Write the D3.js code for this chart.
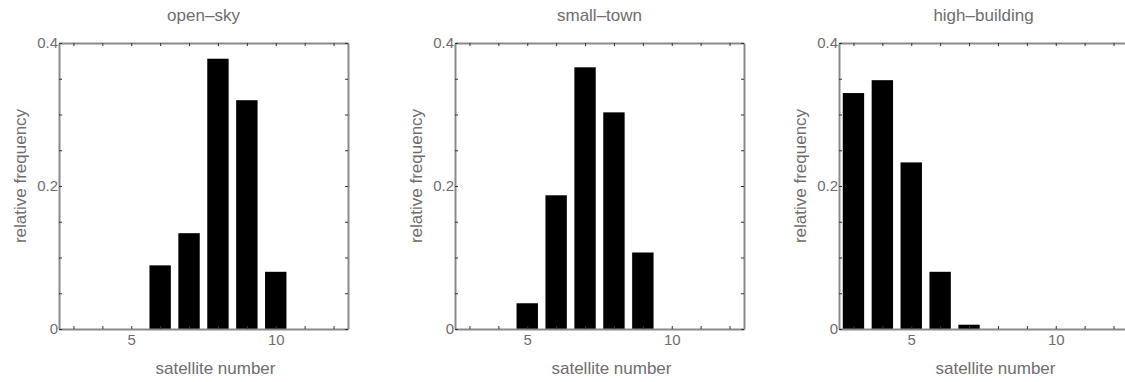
<!DOCTYPE html>
<html>
<head>
<meta charset="utf-8">
<script src="https://cdn.jsdelivr.net/npm/d3@7"></script>
<style>
  body { margin: 0; background: #fff; }
  svg { display: block; }
</style>
</head>
<body>
<div id="chart"></div>
<script>
// satellite counts and relative frequency for each environment
const titles = ["open–sky", "small–town", "high–building"];

const openSkySats = [6, 7, 8, 9, 10];
const openSkyFreq = [0.089, 0.134, 0.378, 0.320, 0.080];

const smallTownSats = [5, 6, 7, 8, 9];
const smallTownFreq = [0.036, 0.187, 0.366, 0.303, 0.107];

const highBuildingSats = [3, 4, 5, 6, 7];
const highBuildingFreq = [0.330, 0.348, 0.233, 0.080, 0.006];

const xTickLabels = [5, 10];
const yTickLabels = [0, 0.2, 0.4];
const xLabel = "satellite number";
const yLabel = "relative frequency";

const width = 1125, height = 382;
const panelLefts = [59, 455, 839];
const panelWidth = 289;
const plotTop = 43, plotBottom = 329;
const textColor = "#6e6e6e";
const font = "'Liberation Sans', Arial, sans-serif";

const svg = d3.select("#chart").append("svg")
    .attr("width", width)
    .attr("height", height);

const series = [
    { sats: openSkySats, freq: openSkyFreq },
    { sats: smallTownSats, freq: smallTownFreq },
    { sats: highBuildingSats, freq: highBuildingFreq }
];

series.forEach((s, i) => {
    const left = panelLefts[i];
    const right = left + panelWidth;

    const x = d3.scaleLinear().domain([2.5, 12.5]).range([left, right]);
    const y = d3.scaleLinear().domain([0, 0.4]).range([plotBottom, plotTop]);

    const g = svg.append("g");

    // bars
    const barW = 0.74;
    g.selectAll("rect")
        .data(s.sats.map((d, j) => ({ sat: d, f: s.freq[j] })))
        .enter().append("rect")
        .attr("x", d => x(d.sat - barW / 2))
        .attr("width", d => x(d.sat + barW / 2) - x(d.sat - barW / 2))
        .attr("y", d => y(d.f))
        .attr("height", d => y(0) - y(d.f))
        .attr("fill", "#000");

    const xTicks = d3.range(3, 13);
    const yTicks = d3.range(0, 0.4001, 0.05);

    const styleAxis = sel => {
        sel.select(".domain").attr("stroke", "#8a8a8a").attr("stroke-width", 2);
        sel.selectAll(".tick line").attr("stroke", "#333").attr("stroke-width", 1);
        sel.selectAll(".tick text")
            .attr("fill", textColor)
            .style("font-family", font)
            .style("font-size", "15px");
    };

    g.append("g")
        .attr("transform", `translate(0,${plotBottom})`)
        .call(d3.axisBottom(x).tickValues(xTicks).tickSizeInner(-3).tickSizeOuter(0).tickPadding(5)
            .tickFormat(d => xTickLabels.includes(d) ? d : ""))
        .call(styleAxis);

    g.append("g")
        .attr("transform", `translate(0,${plotTop})`)
        .call(d3.axisTop(x).tickValues(xTicks).tickSizeInner(-3).tickSizeOuter(0).tickFormat(""))
        .call(styleAxis);

    g.append("g")
        .attr("transform", `translate(${left},0)`)
        .call(d3.axisLeft(y).tickValues(yTicks).tickSizeInner(-3).tickSizeOuter(0).tickPadding(1)
            .tickFormat(d => {
                const hit = yTickLabels.find(v => Math.abs(v - d) < 1e-6);
                return hit === undefined ? "" : String(hit);
            }))
        .call(styleAxis);

    g.append("g")
        .attr("transform", `translate(${right},0)`)
        .call(d3.axisRight(y).tickValues(yTicks).tickSizeInner(-3).tickSizeOuter(0).tickFormat(""))
        .call(styleAxis);

    const mid = (left + right) / 2;

    g.append("text")
        .attr("x", mid)
        .attr("y", 21)
        .attr("text-anchor", "middle")
        .attr("fill", textColor)
        .style("font-family", font)
        .style("font-size", "17px")
        .text(titles[i]);

    g.append("text")
        .attr("x", mid + 12)
        .attr("y", 374)
        .attr("text-anchor", "middle")
        .attr("fill", textColor)
        .style("font-family", font)
        .style("font-size", "17px")
        .text(xLabel);

    g.append("text")
        .attr("transform", `translate(${left - 33},${(plotTop + plotBottom) / 2 - 10}) rotate(-90)`)
        .attr("text-anchor", "middle")
        .attr("fill", textColor)
        .style("font-family", font)
        .style("font-size", "17px")
        .text(yLabel);
});
</script>
</body>
</html>
